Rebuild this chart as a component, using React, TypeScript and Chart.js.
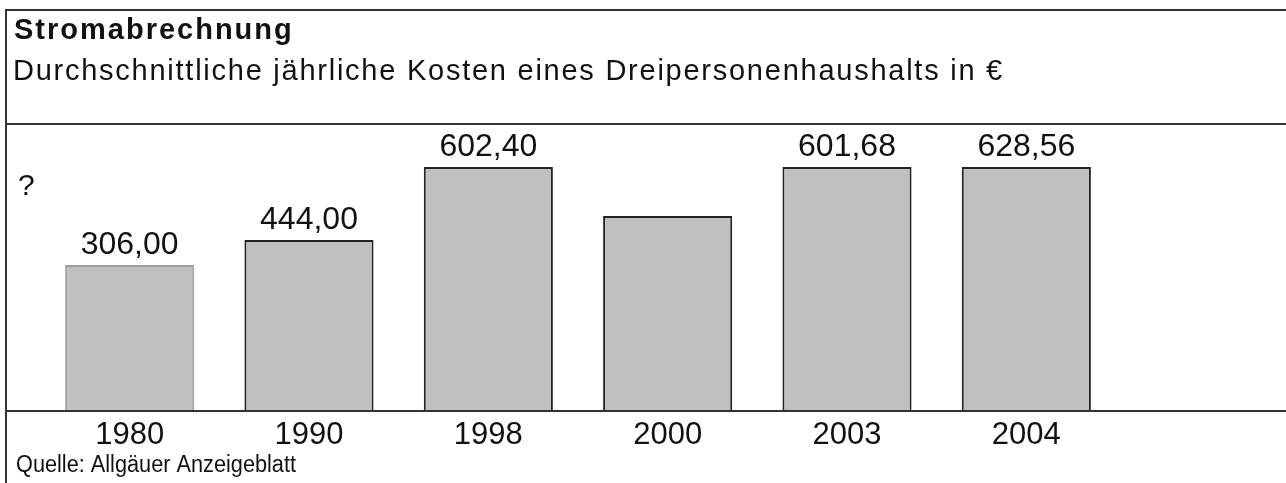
import React, { useEffect, useRef } from "react";
import { Chart, registerables } from "chart.js";

Chart.register(...registerables);

// ---- data ----
const years: string[] = ["1980", "1990", "1998", "2000", "2003", "2004"];
// drawn bar heights as they appear in the graphic (relative units, not to scale with the € values)
const barHeights: number[] = [146, 171, 244, 195, 244, 244];
// printed € values above the bars ("" = no value printed)
const valueLabels: string[] = ["306,00", "444,00", "602,40", "", "601,68", "628,56"];
const titleText = "Stromabrechnung";
const subtitleText = "Durchschnittliche jährliche Kosten eines Dreipersonenhaushalts in €";
const sourceText = "Quelle: Allgäuer Anzeigeblatt";
const unknownMark = "?";

const FONT = '"Liberation Sans", Arial, Helvetica, sans-serif';

const decorPlugin = {
  id: "decor",
  afterDraw(chart: any) {
    const ctx = chart.ctx as CanvasRenderingContext2D;
    const W = chart.width;
    const H = chart.height;
    const area = chart.chartArea;
    ctx.save();
    // frame lines
    ctx.strokeStyle = "#333";
    ctx.lineWidth = 2;
    ctx.beginPath();
    ctx.moveTo(6, H);
    ctx.lineTo(6, 10);
    ctx.lineTo(W, 10);
    ctx.moveTo(6, 124);
    ctx.lineTo(W, 124);
    ctx.moveTo(6, area.bottom);
    ctx.lineTo(W, area.bottom);
    ctx.stroke();

    ctx.fillStyle = "#111";
    ctx.textAlign = "left";
    ctx.textBaseline = "alphabetic";
    // title
    ctx.font = `bold 29px ${FONT}`;
    (ctx as any).letterSpacing = "2px";
    ctx.fillText(titleText, 14, 39);
    // subtitle
    ctx.font = `29px ${FONT}`;
    (ctx as any).letterSpacing = "1.75px";
    ctx.fillText(subtitleText, 13, 80);
    (ctx as any).letterSpacing = "0px";
    // unknown mark
    ctx.font = `30px ${FONT}`;
    ctx.fillText(unknownMark, 18, 195);
    // source
    ctx.font = `23px ${FONT}`;
    ctx.fillText(sourceText, 16, 472, 280);

    // value labels
    const meta = chart.getDatasetMeta(0);
    ctx.font = `32px ${FONT}`;
    ctx.textAlign = "center";
    meta.data.forEach((bar: any, i: number) => {
      const t = valueLabels[i];
      if (!t) return;
      ctx.fillText(t, bar.x, bar.y - 11);
    });
    ctx.restore();
  },
};

export default function App() {
  const ref = useRef<HTMLCanvasElement | null>(null);
  useEffect(() => {
    if (!ref.current) return;
    const chart = new Chart(ref.current, {
      type: "bar",
      data: {
        labels: years,
        datasets: [
          {
            data: barHeights,
            backgroundColor: "#c0c0c0",
            borderColor: years.map((_, i) => (i === 0 ? "#a0a0a0" : "#222")),
            borderWidth: 2,
            borderSkipped: "bottom",
            barPercentage: 0.72,
            categoryPercentage: 1,
          },
        ],
      },
      plugins: [decorPlugin],
      options: {
        responsive: false,
        animation: false,
        layout: { padding: { top: 124, left: 40, right: 170, bottom: 0 } },
        plugins: {
          legend: { display: false },
          title: { display: false },
          tooltip: { enabled: false },
        },
        scales: {
          x: {
            grid: { display: false },
            border: { display: false },
            ticks: {
              color: "#111",
              font: { family: FONT, size: 31 },
              padding: -2,
              autoSkip: false,
              maxRotation: 0,
            },
            afterFit(scale: any) {
              scale.height = 72;
            },
          },
          y: {
            display: false,
            min: 0,
            max: 287,
          },
        },
      },
    });
    return () => chart.destroy();
  }, []);
  return (
    <div style={{ position: "absolute", left: 0, top: 0, width: 1286, height: 483, background: "#fff" }}>
      <canvas ref={ref} width={1286} height={483} />
    </div>
  );
}
